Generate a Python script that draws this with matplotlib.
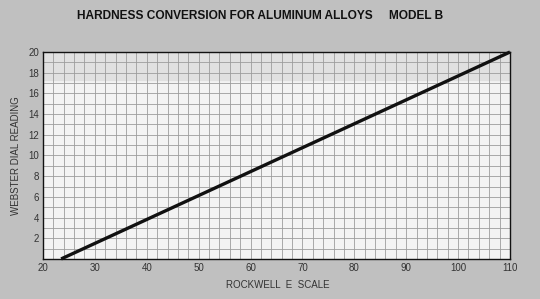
import numpy as np
import matplotlib.pyplot as plt

# DATA
rockwell_e = [23.5, 110]
webster    = [0, 20]
x_ticks = list(range(20, 111, 10))
y_ticks = list(range(2, 21, 2))

plt.rcParams['font.family'] = ['Liberation Sans', 'DejaVu Sans']

fig = plt.figure(figsize=(5.4, 2.99), dpi=100, facecolor='#c0c0c0')
ax = fig.add_axes([0.0796, 0.134, 0.8648, 0.692])
ax.set_facecolor('#f3f3f3')

# shaded band near top (as in the scanned sheet)
ax.axhspan(17.3, 20, color='#e0e0e0', zorder=0)

ax.set_xlim(20, 110)
ax.set_ylim(0, 20)
ax.set_xticks(x_ticks)
ax.set_yticks(y_ticks)
ax.set_xticks(np.arange(20, 111, 2), minor=True)
ax.set_yticks(np.arange(0, 21, 1), minor=True)
ax.grid(which='both', color='#9c9c9c', linewidth=0.6)
ax.set_axisbelow(True)
ax.tick_params(which='both', length=0, labelsize=7, colors='#333333', pad=3)

for s in ax.spines.values():
    s.set_color('#111111')
    s.set_linewidth(1.0)

ax.plot(rockwell_e, webster, color='#111111', linewidth=2.4, solid_capstyle='butt', clip_on=False)

ax.set_xlabel('ROCKWELL  E  SCALE', fontsize=7, color='#333333')
ax.set_ylabel('WEBSTER DIAL READING', fontsize=7, color='#333333')
ax.xaxis.set_label_coords(0.503, -0.126)
ax.yaxis.set_label_coords(-0.058, 0.5)
ax.xaxis.label.set_va('center')
ax.yaxis.label.set_va('center')

fig.text(0.481, 0.945, 'HARDNESS CONVERSION FOR ALUMINUM ALLOYS     MODEL B',
         ha='center', va='center', fontsize=8.6, fontweight='bold', color='#111111')

plt.savefig('out.png', dpi=100, facecolor=fig.get_facecolor())
